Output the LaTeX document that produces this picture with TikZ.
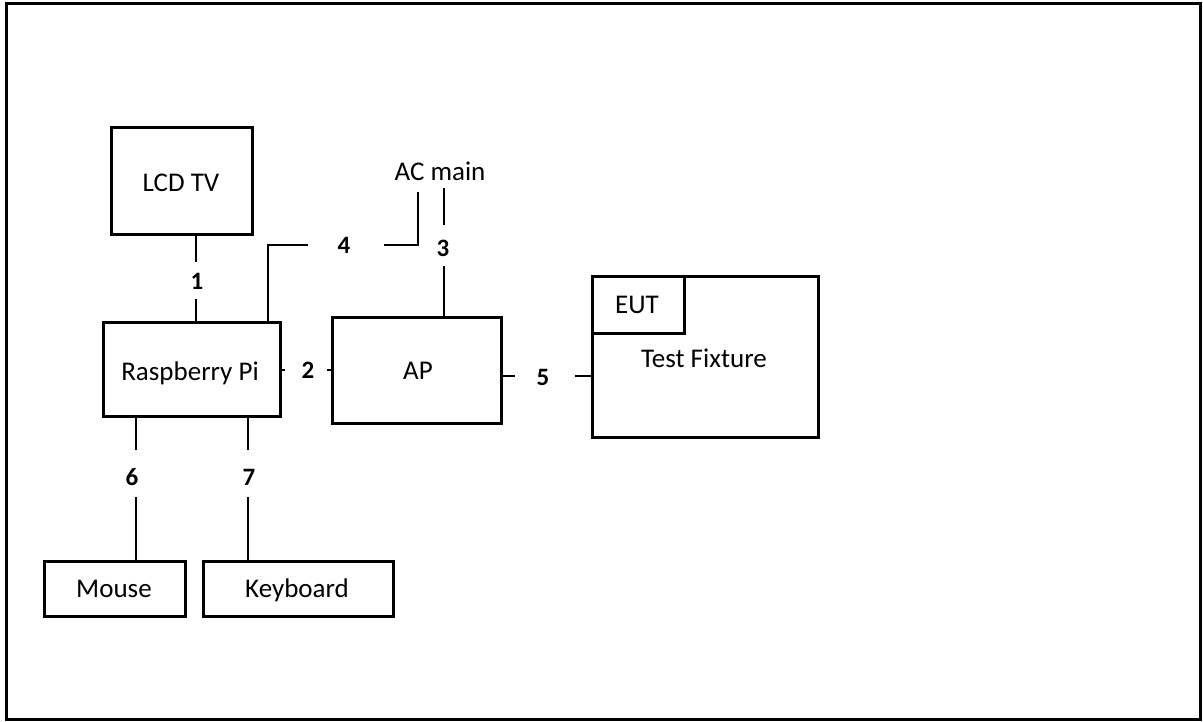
\documentclass[tikz,border=0pt]{standalone}
\usepackage{fontspec}
\setmainfont{Carlito}
\begin{document}
\begin{tikzpicture}[x=1pt,y=-1pt,
  box/.style={draw,line width=3pt,inner sep=0pt,minimum width=#1},
  wire/.style={line width=2pt},
  num/.style={font=\fontsize{25}{28}\selectfont\bfseries,inner sep=0pt},
  lbl/.style={font=\fontsize{27}{30}\selectfont,inner sep=0pt,anchor=base}]
\useasboundingbox (0,0) rectangle (1203,722);
\draw[line width=3pt] (6,4) rectangle (1200,719);
% boxes
\node[box=141pt,minimum height=107pt] (lcd) at (181.5,181.5) {};
\node[box=177pt,minimum height=93pt] (rpi) at (191.5,369.5) {};
\node[box=169pt,minimum height=105pt] (ap) at (416.5,370.5) {};
\node[box=226pt,minimum height=160pt] (tf) at (705,357) {};
\node[box=92pt,minimum height=56pt] (eut) at (638,305) {};
\node[box=141pt,minimum height=55pt] (mouse) at (114.5,588.5) {};
\node[box=190pt,minimum height=55pt] (kb) at (298,588.5) {};
% labels
\node[lbl] (lcdt) at (181,192) {LCD TV};
\node[lbl] (rpit) at (190,380) {Raspberry Pi};
\node[lbl] (apt) at (418,379) {AP};
\node[lbl] (eutt) at (637,313) {EUT};
\node[lbl] (tft) at (704,367) {Test Fixture};
\node[lbl] (mouset) at (114,597) {Mouse};
\node[lbl] (kbt) at (297,597) {Keyboard};
\node[lbl] (ac) at (440,181) {AC main};
% numbers
\node[num] (n1) at (197,281) {1};
\node[num] (n2) at (308,370) {2};
\node[num] (n3) at (443,248) {3};
\node[num] (n4) at (344,245) {4};
\node[num] (n5) at (543,377) {5};
\node[num] (n6) at (132,477) {6};
\node[num] (n7) at (249,477) {7};
% wire end points
\coordinate (w1a) at (196,262);
\coordinate (w1b) at (196,299);
\coordinate (w4a) at (268,245);
\coordinate (w4b) at (308,245);
\coordinate (w4c) at (384,245);
\coordinate (w4d) at (418,192);
\coordinate (w3a) at (444,188);
\coordinate (w3b) at (444,225);
\coordinate (w3c) at (444,266);
\coordinate (w2a) at (285,370);
\coordinate (w2b) at (327,370);
\coordinate (w5a) at (515,376);
\coordinate (w5b) at (575,376);
\coordinate (w6a) at (136,450);
\coordinate (w6b) at (136,497);
\coordinate (w7a) at (248,450);
\coordinate (w7b) at (248,497);
% wires
\draw[wire] (w1a |- lcd.south) -- (w1a);
\draw[wire] (w1b) -- (w1b |- rpi.north);
\draw[wire] (w4a |- rpi.north) -- (w4a) -- (w4b);
\draw[wire] (w4c) -- (w4c -| w4d) -- (w4d);
\draw[wire] (w3a) -- (w3b);
\draw[wire] (w3c) -- (w3c |- ap.north);
\draw[wire] (rpi.east |- w2a) -- (w2a);
\draw[wire] (w2b) -- (ap.west |- w2b);
\draw[wire] (ap.east |- w5a) -- (w5a);
\draw[wire] (w5b) -- (tf.west |- w5b);
\draw[wire] (w6a |- rpi.south) -- (w6a);
\draw[wire] (w6b) -- (w6b |- mouse.north);
\draw[wire] (w7a |- rpi.south) -- (w7a);
\draw[wire] (w7b) -- (w7b |- kb.north);
\end{tikzpicture}
\end{document}
